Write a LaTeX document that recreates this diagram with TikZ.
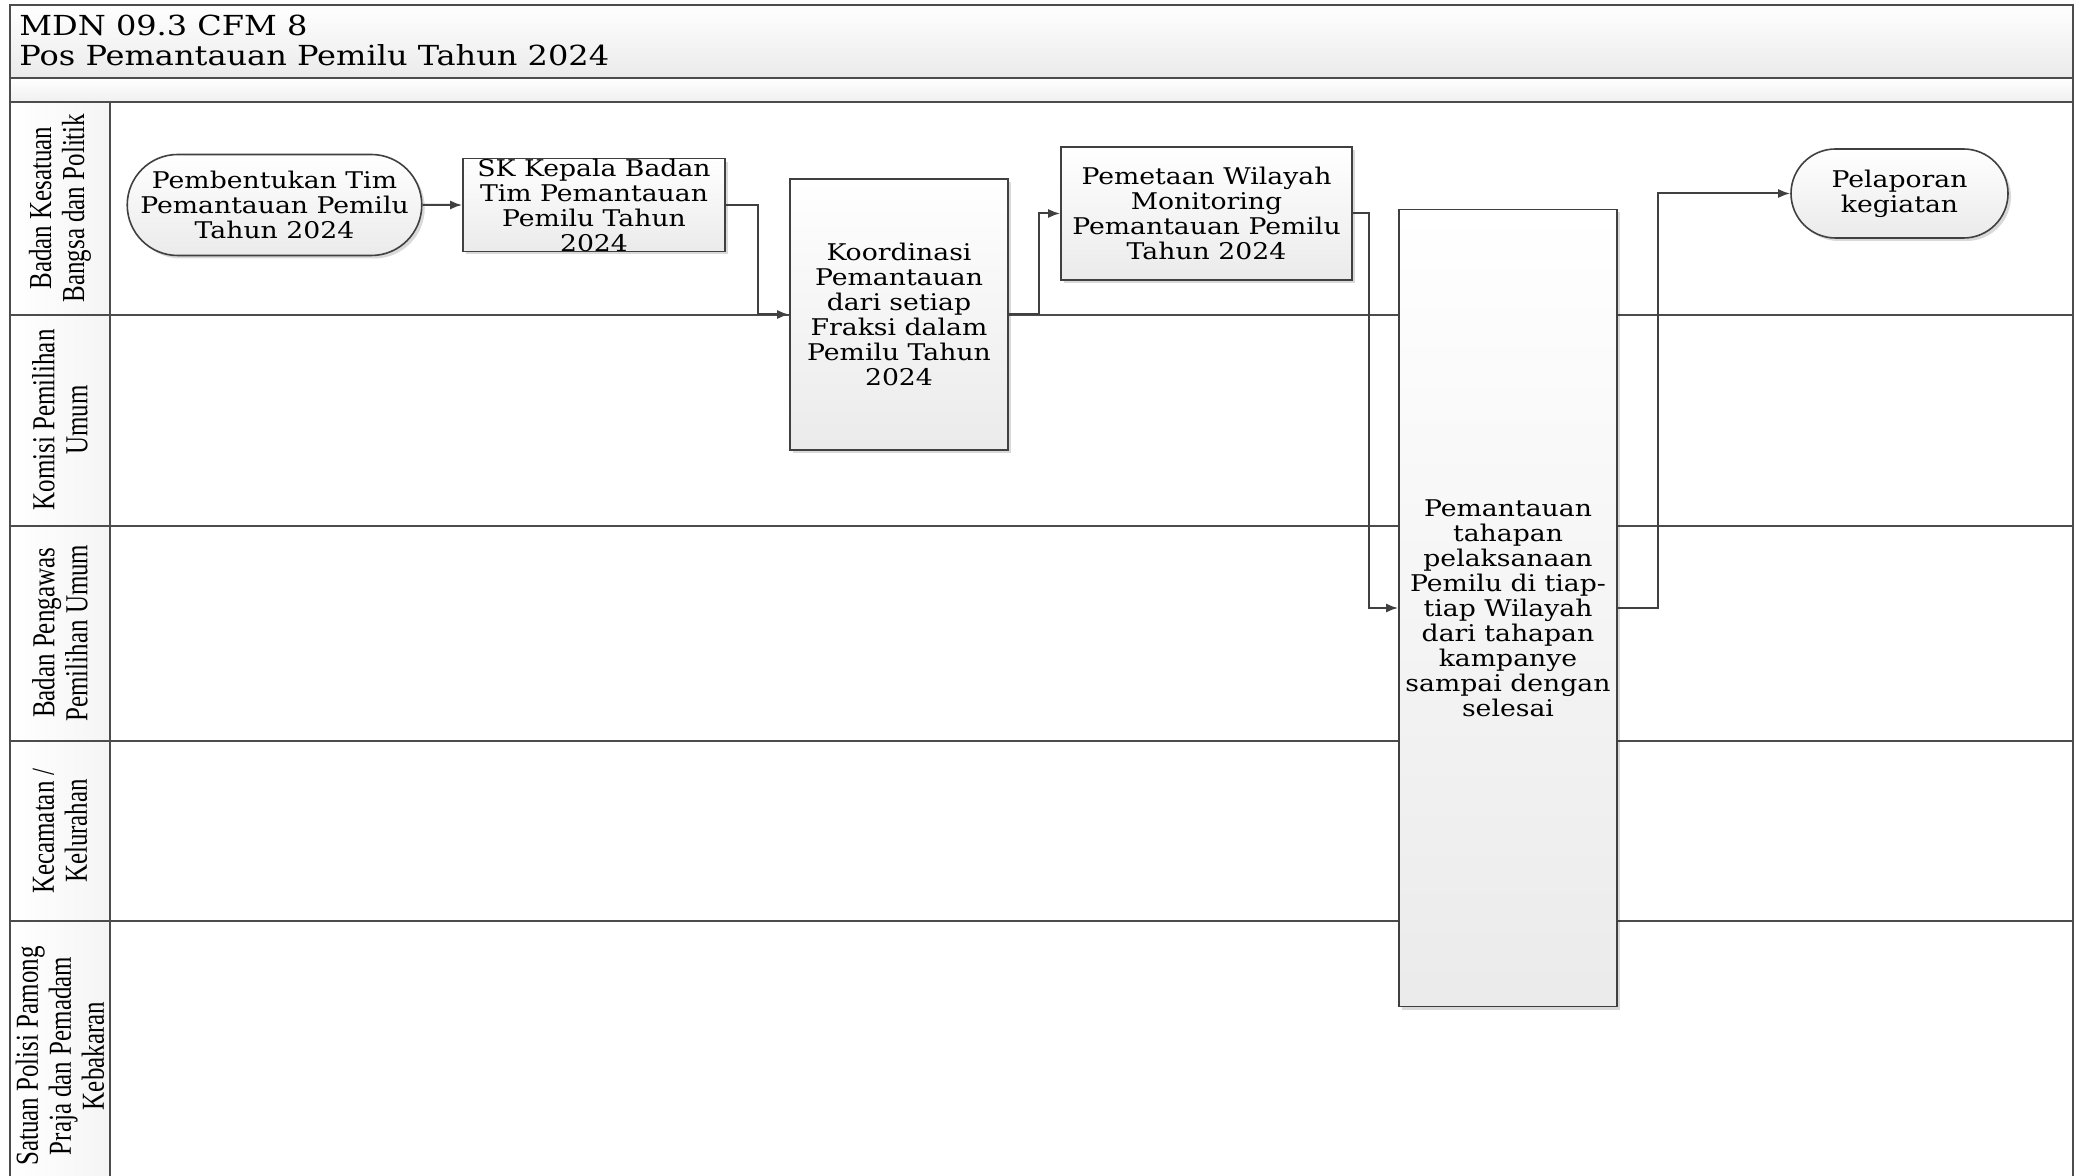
\documentclass[tikz,border=0pt]{standalone}
\usepackage{fontspec}
\setmainfont[FakeStretch=1.16]{DejaVu Serif}
\newfontfamily\lanefont[FakeStretch=0.78]{Liberation Serif}
\usetikzlibrary{shapes.misc,shadows,arrows.meta}

\tikzset{
  garis/.style={draw=black!70, line width=1pt},
  panah/.style={->, draw=black!75, line width=1pt},
  kotak/.style={draw=black!75, line width=0.8pt, top color=white, bottom color=black!8,
    drop shadow={shadow xshift=1.5pt, shadow yshift=-1.5pt, opacity=0.15, fill=black},
    inner sep=0pt, align=center, font=\fontsize{11.5}{12.5}\selectfont},
  terminal/.style={kotak, rounded rectangle},
  lanelabel/.style={rotate=90, align=center, font=\lanefont\fontsize{16}{16.5}\selectfont},
}

\begin{document}
\begin{tikzpicture}[x=0.5pt, y=-0.5pt, >={Latex[length=6pt, width=4.5pt]}]
\useasboundingbox (0,0) rectangle (2082,1176);
\fill[white] (0,0) rectangle (2082,1176);

% Kepala judul
\shade[top color=white, bottom color=black!8] (10,5) rectangle (2073,78);
\shade[top color=white, bottom color=black!6] (10,78) rectangle (2073,102);
\shade[left color=white, right color=black!4] (10,102) rectangle (110,1176);
\node[anchor=west, inner sep=0pt, font=\fontsize{13.8}{15}\selectfont] (kode) at (19,25) {MDN 09.3 CFM 8};
\node[anchor=west, inner sep=0pt, font=\fontsize{13.8}{15}\selectfont] (judul) at (19,55) {Pos Pemantauan Pemilu Tahun 2024};

% Bingkai dan jalur
\draw[garis] (10,1176) -- (10,5) -- (2073,5) -- (2073,1176);
\draw[garis] (10,78) -- (2073,78);
\draw[garis] (10,102) -- (2073,102);
\draw[garis] (110,102) -- (110,1176);
\foreach \y in {315,526,741,921}
  \draw[garis] (10,\y) -- (2073,\y);

\foreach \y/\t [count=\i] in {208/{Badan Kesatuan\\Bangsa dan Politik},
    420/{Komisi Pemilihan\\Umum}, 633/{Badan Pengawas\\Pemilihan Umum},
    831/{Kecamatan /\\Kelurahan}, 1056/{Satuan Polisi Pamong\\Praja dan Pemadam\\Kebakaran}}
  \node[lanelabel] (jalur\i) at (60,\y) {\t};

% Langkah kegiatan
\node[terminal, minimum width=145.5pt, minimum height=50.5pt] (bentuk) at (274.5,205) {Pembentukan Tim\\Pemantauan Pemilu\\Tahun 2024};
\node[kotak, minimum width=131pt, minimum height=45.5pt] (skkepala) at (594,205) {SK Kepala Badan\\Tim Pemantauan\\Pemilu Tahun\\2024};
\node[kotak, minimum width=109pt, minimum height=135.5pt] (koordinasi) at (899,314.5) {Koordinasi\\Pemantauan\\dari setiap\\Fraksi dalam\\Pemilu Tahun\\2024};
\node[kotak, minimum width=145.5pt, minimum height=66.5pt] (pemetaan) at (1206.5,213.5) {Pemetaan Wilayah\\Monitoring\\Pemantauan Pemilu\\Tahun 2024};
\node[kotak, minimum width=109pt, minimum height=398.5pt] (pantau) at (1508,608) {Pemantauan\\tahapan\\pelaksanaan\\Pemilu di tiap-\\tiap Wilayah\\dari tahapan\\kampanye\\sampai dengan\\selesai};
\node[terminal, minimum width=108.5pt, minimum height=44.5pt] (lapor) at (1899.5,193.5) {Pelaporan\\kegiatan};

% Alur
\draw[panah] (bentuk) -- (skkepala);
\draw[panah] (skkepala.east) -- ++(32,0) |- (koordinasi.west);
\draw[panah] (koordinasi.east) -- ++(30,0) |- (pemetaan.west);
\draw[panah] (pemetaan.east) -- ++(16,0) |- (pantau.west);
\draw[panah] (pantau.east) -- ++(40,0) |- (lapor.west);
\end{tikzpicture}
\end{document}
